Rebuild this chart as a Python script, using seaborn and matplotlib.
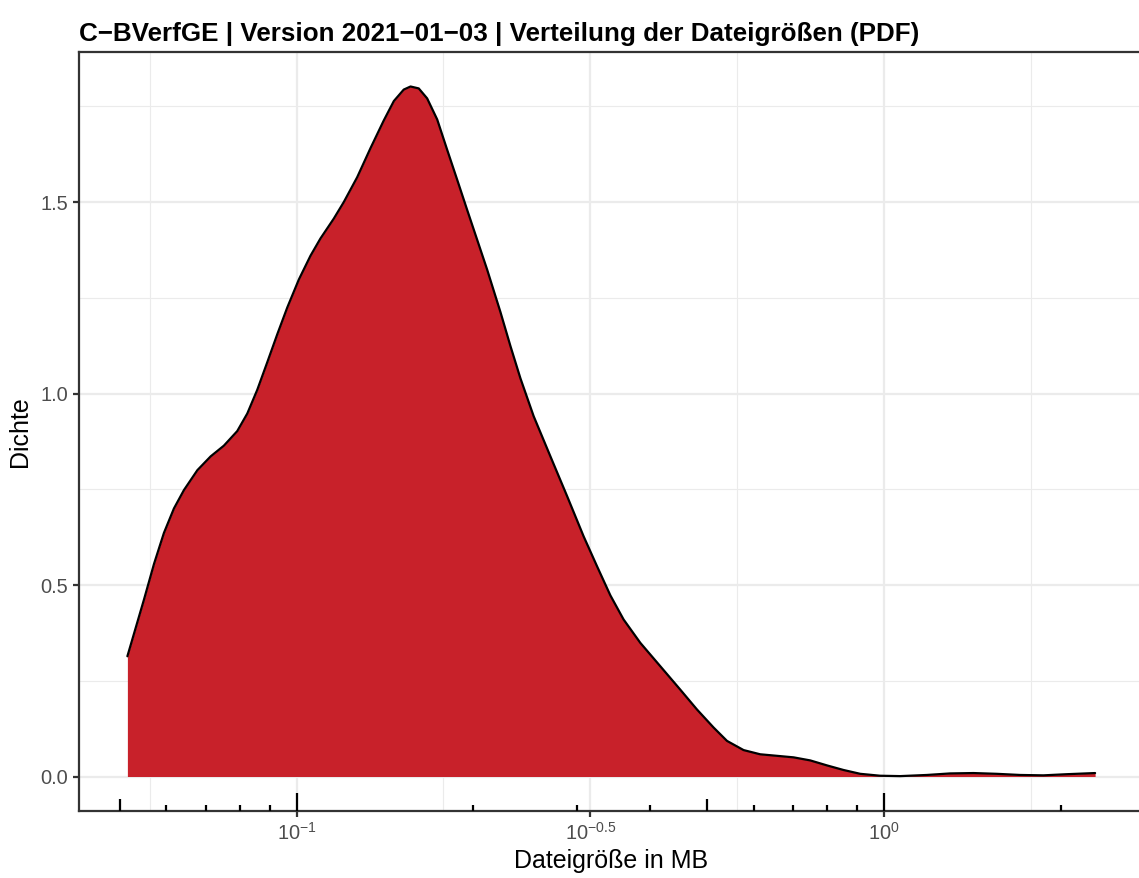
import matplotlib
matplotlib.use("Agg")
import matplotlib.pyplot as plt
import numpy as np
import pandas as pd
import seaborn as sns

# density of file sizes, x in MB on a log10 axis
size_mb = [0.05153, 0.05499, 0.05719, 0.05946, 0.06184, 0.06431, 0.06779, 0.07141,
           0.07521, 0.07925, 0.08244, 0.08573, 0.08916, 0.09272, 0.09643, 0.1009,
           0.1056, 0.1098, 0.1157, 0.1203, 0.1268, 0.1336, 0.1407, 0.1464, 0.1522,
           0.1563, 0.1614, 0.1668, 0.1735, 0.1804, 0.1876, 0.1951, 0.2029, 0.2110,
           0.2223, 0.2312, 0.2404, 0.2532, 0.2704, 0.2887, 0.3080, 0.3246, 0.3420,
           0.3602, 0.3846, 0.4159, 0.4497, 0.4802, 0.5124, 0.5401, 0.5764, 0.6152,
           0.6570, 0.7012, 0.7485, 0.7991, 0.8527, 0.9104, 0.9845, 1.0646, 1.1819,
           1.2946, 1.4187, 1.5545, 1.7032, 1.8661, 2.0449, 2.2855]
density = [0.314, 0.462, 0.555, 0.636, 0.700, 0.748, 0.800, 0.836,
           0.864, 0.902, 0.948, 1.010, 1.082, 1.155, 1.225, 1.298,
           1.360, 1.405, 1.457, 1.500, 1.565, 1.641, 1.713, 1.764, 1.794,
           1.802, 1.797, 1.771, 1.716, 1.637, 1.559, 1.480, 1.402, 1.324,
           1.213, 1.124, 1.040, 0.941, 0.836, 0.732, 0.627, 0.549, 0.473,
           0.410, 0.349, 0.288, 0.227, 0.175, 0.128, 0.093, 0.069, 0.058,
           0.054, 0.050, 0.042, 0.029, 0.017, 0.007, 0.002, 0.001, 0.004,
           0.008, 0.009, 0.007, 0.004, 0.003, 0.006, 0.009]

x_breaks = [10**-1, 10**-0.5, 10**0]
x_labels = ["$\\mathregular{10^{-1}}$", "$\\mathregular{10^{-0.5}}$", "$\\mathregular{10^{0}}$"]
x_minor = [10**-1.25, 10**-0.75, 10**-0.25, 10**0.25]
y_breaks = [0.0, 0.5, 1.0, 1.5]
y_minor = [0.25, 0.75, 1.25, 1.75]

title = "C\u2212BVerfGE | Version 2021\u221201\u221203 | Verteilung der Dateigrößen (PDF)"

df = pd.DataFrame({"size": size_mb, "density": density})

sns.set_theme(style="white")
plt.rcParams["font.family"] = ["Liberation Sans", "DejaVu Sans"]
plt.rcParams["mathtext.fontset"] = "custom"
plt.rcParams["mathtext.rm"] = "Liberation Sans"

dpi = 150
W, H = 1139, 878
fig = plt.figure(figsize=(W / dpi, H / dpi), dpi=dpi)
ax = fig.add_axes([79 / W, (H - 811) / H, (1143.5 - 79) / W, (811 - 52) / H])

lw = 0.5 * 72.27 / 25.4 * 0.75  # ggplot linewidth 0.5 in points

# grid
for v in x_breaks:
    ax.axvline(v, color="#EBEBEB", lw=lw, zorder=0)
for v in x_minor:
    ax.axvline(v, color="#EBEBEB", lw=lw / 2, zorder=0)
for v in y_breaks:
    ax.axhline(v, color="#EBEBEB", lw=lw, zorder=0)
for v in y_minor:
    ax.axhline(v, color="#EBEBEB", lw=lw / 2, zorder=0)

ax.fill_between(df["size"], 0, df["density"], color="#C8212A", lw=0, zorder=2)
sns.lineplot(data=df, x="size", y="density", color="black", lw=lw, ax=ax, zorder=3)

ax.set_xscale("log")
lo, hi = np.log10(min(size_mb)), np.log10(max(size_mb))
pad = 0.05 * (hi - lo)
ax.set_xlim(10**(lo - pad), 10**(hi + pad))
ymax = max(density)
ax.set_ylim(-0.05 * ymax, 1.05 * ymax)

ax.set_xticks(x_breaks)
ax.set_xticklabels(x_labels)
ax.xaxis.set_minor_locator(matplotlib.ticker.NullLocator())
ax.set_yticks(y_breaks)
ax.set_yticklabels([f"{v:.1f}" for v in y_breaks])
ax.tick_params(axis="both", which="major", direction="out", length=2.75, width=lw,
               color="#333333", labelcolor="#4D4D4D", labelsize=9.6, pad=2.4,
               bottom=True, left=True)

# log ticks along the bottom (inside the panel)
xl = ax.get_xlim()
panel_h_cm = (811 - 52) / dpi * 2.54
for k in [-2, -1, 0]:
    for m in range(1, 10):
        v = m * 10**k
        if xl[0] <= v <= xl[1]:
            L = 0.3 if m == 1 else (0.2 if m == 5 else 0.1)
            ax.vlines(v, -0.05 * ymax, -0.05 * ymax + L / panel_h_cm * 1.1 * ymax,
                      colors="black", lw=lw, zorder=4)

for s in ax.spines.values():
    s.set_color("#333333")
    s.set_linewidth(lw)

ax.set_xlabel("Dateigröße in MB", fontsize=12, color="black", labelpad=2.75)
ax.set_ylabel("Dichte", fontsize=12, color="black", labelpad=4)

fig.text(79 / W, 1 - 41 / H, title, fontsize=12.5, fontweight="bold", ha="left",
         va="baseline", color="black")

fig.savefig("out.png", dpi=dpi)
